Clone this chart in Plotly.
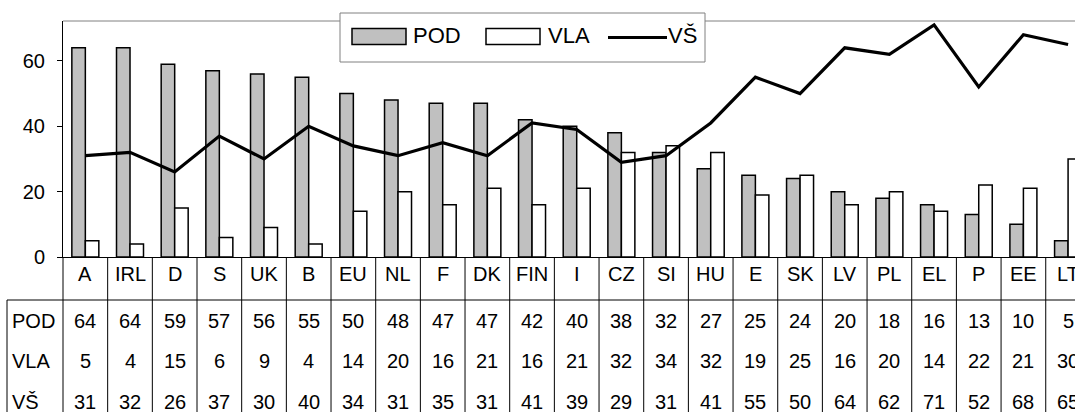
import plotly.graph_objects as go

categories = ["A", "IRL", "D", "S", "UK", "B", "EU", "NL", "F", "DK", "FIN", "I",
              "CZ", "SI", "HU", "E", "SK", "LV", "PL", "EL", "P", "EE", "LT"]
pod = [64, 64, 59, 57, 56, 55, 50, 48, 47, 47, 42, 40, 38, 32, 27, 25, 24, 20, 18, 16, 13, 10, 5]
vla = [5, 4, 15, 6, 9, 4, 14, 20, 16, 21, 16, 21, 32, 34, 32, 19, 25, 16, 20, 14, 22, 21, 30]
vs = [31, 32, 26, 37, 30, 40, 34, 31, 35, 31, 41, 39, 29, 31, 41, 55, 50, 64, 62, 71, 52, 68, 65]
series_names = ["POD", "VLA", "VŠ"]
y_ticks = [0, 20, 40, 60]

W, H = 1075, 412
L, R, T, B = 63, 0, 21, 155
PW = W - L - R
PH = H - T - B
FONT = "Liberation Sans, Arial, sans-serif"
X_RANGE = [-0.5, (W - L) / 44.67 - 0.5]


def px_x(X):
    return (X - L) / PW


def px_y(Y):
    return (H - B - Y) / PH


def cat_to_paper(v):
    return (v - X_RANGE[0]) / (X_RANGE[1] - X_RANGE[0])


fig = go.Figure()
fig.add_trace(go.Bar(x=categories, y=pod, name=series_names[0], marker=dict(color="#c0c0c0", line=dict(color="black", width=1.5)), showlegend=False))
fig.add_trace(go.Bar(x=categories, y=vla, name=series_names[1], marker=dict(color="white", line=dict(color="black", width=1.5)), showlegend=False))
fig.add_trace(go.Scatter(x=categories, y=vs, name=series_names[2], mode="lines", line=dict(color="black", width=3.2), showlegend=False))

shapes = []
annotations = []

# top border of plot area
shapes.append(dict(type="line", xref="paper", yref="paper", x0=0, x1=1.02, y0=1, y1=1,
                   line=dict(color="#808080", width=1), layer="above"))

# table lines
y_top = 0
y_hline = px_y(300)
y_bottom = px_y(H + 5)
shapes.append(dict(type="line", xref="paper", yref="paper", x0=px_x(7), x1=1.02, y0=y_hline, y1=y_hline,
                   line=dict(color="black", width=1)))
shapes.append(dict(type="line", xref="paper", yref="paper", x0=px_x(7), x1=px_x(7), y0=y_hline, y1=y_bottom,
                   line=dict(color="black", width=1)))
for k in range(len(categories) + 1):
    xp = cat_to_paper(k - 0.5)
    shapes.append(dict(type="line", xref="paper", yref="paper", x0=xp, x1=xp, y0=y_top, y1=y_bottom,
                       line=dict(color="black", width=1)))

# table text
row_cat = px_y(273.5)
rows = [(series_names[0], pod, px_y(320.5)), (series_names[1], vla, px_y(361)), (series_names[2], vs, px_y(401.5))]
tfont = dict(family=FONT, size=20, color="black")
for c in categories:
    annotations.append(dict(x=c, y=row_cat, xref="x", yref="paper", text=c, showarrow=False,
                            font=tfont, xanchor="center", yanchor="middle"))
for name, vals, yy in rows:
    annotations.append(dict(x=px_x(10), y=yy, xref="paper", yref="paper", text=name, showarrow=False,
                            font=tfont, xanchor="left", yanchor="middle"))
    for c, v in zip(categories, vals):
        annotations.append(dict(x=c, y=yy, xref="x", yref="paper", text=str(v), showarrow=False,
                                font=tfont, xanchor="center", yanchor="middle"))

# custom legend
lg_top, lg_bot = px_y(13), px_y(62)
shapes.append(dict(type="rect", xref="paper", yref="paper", x0=px_x(340), x1=px_x(705), y0=lg_bot, y1=lg_top,
                   line=dict(color="#808080", width=1), fillcolor="white", layer="above"))
sw_top, sw_bot = px_y(28.5), px_y(44.5)
shapes.append(dict(type="rect", xref="paper", yref="paper", x0=px_x(352), x1=px_x(406), y0=sw_bot, y1=sw_top,
                   line=dict(color="black", width=1.5), fillcolor="#c0c0c0", layer="above"))
shapes.append(dict(type="rect", xref="paper", yref="paper", x0=px_x(486), x1=px_x(540), y0=sw_bot, y1=sw_top,
                   line=dict(color="black", width=1.5), fillcolor="white", layer="above"))
shapes.append(dict(type="line", xref="paper", yref="paper", x0=px_x(608), x1=px_x(667), y0=px_y(37.5), y1=px_y(37.5),
                   line=dict(color="black", width=3.2), layer="above"))
lfont = dict(family=FONT, size=22, color="black")
for name, X in [(series_names[0], 411), (series_names[1], 546), (series_names[2], 666)]:
    annotations.append(dict(x=px_x(X), y=px_y(35.5), xref="paper", yref="paper", text=name, showarrow=False,
                            font=lfont, xanchor="left", yanchor="middle"))

fig.update_layout(
    width=W, height=H,
    margin=dict(l=L, r=R, t=T, b=B, pad=0),
    paper_bgcolor="white", plot_bgcolor="white",
    barmode="group", bargap=0.396, bargroupgap=0,
    font=dict(family=FONT, size=20, color="black"),
    shapes=shapes, annotations=annotations,
    showlegend=False,
)
fig.update_xaxes(type="category", range=X_RANGE, showticklabels=False, ticks="",
                 showline=True, linecolor="black", linewidth=1, showgrid=False, zeroline=False, fixedrange=True)
fig.update_yaxes(range=[0, 72.2], tickvals=y_ticks, ticks="outside", ticklen=5, tickcolor="black", tickwidth=1,
                 showline=True, linecolor="black", linewidth=1, showgrid=False, zeroline=False,
                 tickfont=dict(family=FONT, size=20, color="black"), ticklabelstandoff=8, fixedrange=True)

post = ("document.documentElement.style.margin='0';document.documentElement.style.overflow='hidden';"
        "document.body.style.margin='0';document.body.style.padding='0';document.body.style.overflow='hidden';")
fig.write_html("out.html", config={"displayModeBar": False}, post_script=post)
